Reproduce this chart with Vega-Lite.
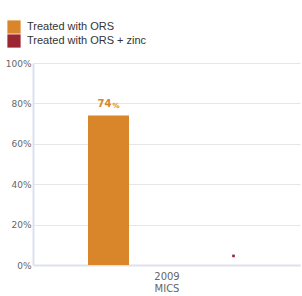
{
  "$schema": "https://vega.github.io/schema/vega-lite/v6.json",
  "width": 267,
  "height": 202,
  "autosize": {"type": "none"},
  "padding": {"left": 33, "top": 63, "right": 2, "bottom": 31},
  "background": "white",
  "config": {
    "view": {"stroke": null},
    "font": "DejaVu Sans"
  },
  "data": {
    "values": [
      {"cat": "2009 MICS", "series": "Treated with ORS", "value": 74, "num": "74"},
      {"cat": "2009 MICS", "series": "Treated with ORS + zinc", "value": 4.5, "num": ""}
    ]
  },
  "encoding": {
    "x": {
      "field": "cat", "type": "nominal",
      "scale": {"paddingInner": 0, "paddingOuter": 0.034, "align": 0.765},
      "axis": {
        "title": null, "labelAngle": 0, "labelExpr": "split(datum.label, ' ')",
        "labelColor": "#666666", "labelFontSize": 10, "labelFont": "DejaVu Sans",
        "labelLineHeight": 12, "labelPadding": 6, "labelOffset": -4,
        "ticks": false, "domainColor": "#dde1ee", "domainWidth": 2, "grid": false
      }
    },
    "xOffset": {"field": "series", "type": "nominal", "scale": {"paddingInner": 0, "paddingOuter": 0}},
    "y": {
      "field": "value", "type": "quantitative",
      "scale": {"domain": [0, 100]},
      "axis": {
        "title": null, "values": [0, 20, 40, 60, 80, 100], "labelExpr": "datum.value + '%'",
        "labelColor": "#666666", "labelFontSize": 9, "labelPadding": 2, "ticks": false,
        "domainColor": "#dde1ee", "domainWidth": 2, "gridColor": "#e6e6e6", "gridWidth": 1
      }
    },
    "color": {
      "field": "series", "type": "nominal",
      "scale": {"domain": ["Treated with ORS", "Treated with ORS + zinc"], "range": ["#d9862a", "#9b2530"]},
      "legend": {
        "title": null, "orient": "none", "legendX": -26, "legendY": -43,
        "symbolType": "square", "symbolSize": 175, "symbolStrokeWidth": 0, "symbolOpacity": 1,
        "labelFontSize": 11, "labelColor": "#333333", "labelFont": "Liberation Sans",
        "rowPadding": 0, "labelOffset": 6
      }
    }
  },
  "layer": [
    {
      "transform": [{"filter": "datum.series == 'Treated with ORS'"}],
      "mark": {"type": "bar", "width": 41}
    },
    {
      "transform": [{"filter": "datum.series == 'Treated with ORS + zinc'"}],
      "mark": {"type": "square", "size": 7, "opacity": 1}
    },
    {
      "transform": [{"filter": "datum.series == 'Treated with ORS'"}],
      "mark": {"type": "text", "baseline": "bottom", "align": "right", "dy": -7, "dx": 3, "fontWeight": "bold", "fontSize": 10, "color": "#d9862a"},
      "encoding": {"text": {"field": "num"}, "color": {"value": "#d9862a"}}
    },
    {
      "transform": [{"filter": "datum.series == 'Treated with ORS'"}],
      "mark": {"type": "text", "baseline": "bottom", "align": "left", "dy": -7, "dx": 4, "fontWeight": "bold", "fontSize": 7, "color": "#d9862a"},
      "encoding": {"text": {"value": "%"}, "color": {"value": "#d9862a"}}
    }
  ]
}
